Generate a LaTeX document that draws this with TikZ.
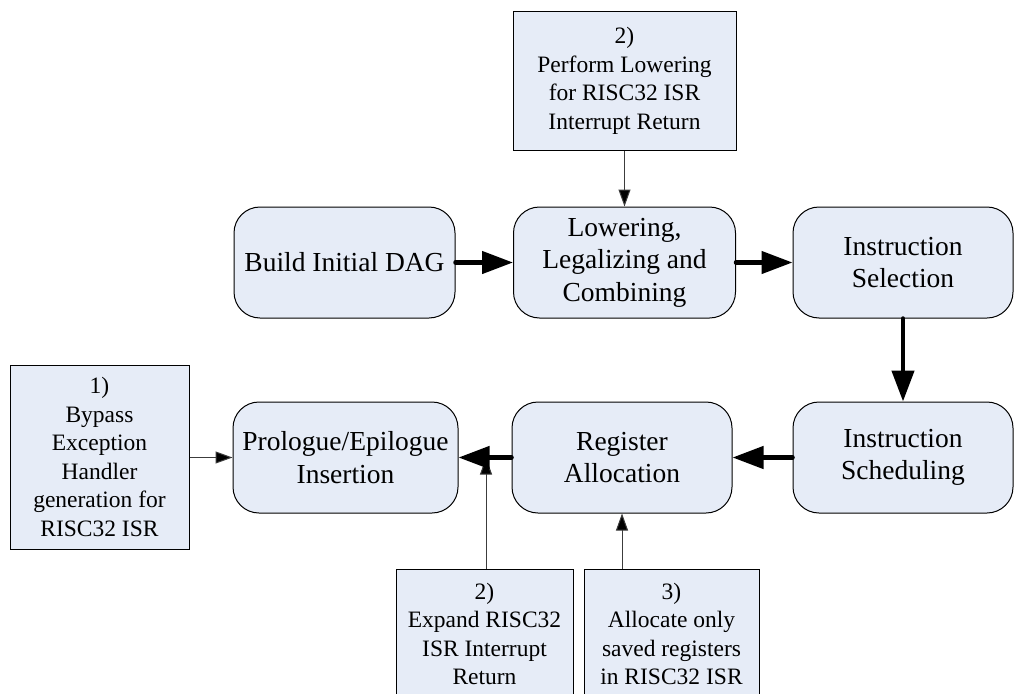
\documentclass[tikz,border=0pt]{standalone}
\usepackage{fontspec}
\setmainfont{Liberation Serif}
\usetikzlibrary{arrows.meta}
\definecolor{boxfill}{RGB}{230,236,247}
\definecolor{thinline}{RGB}{60,60,60}
\begin{document}
\begin{tikzpicture}[x=1pt,y=-1pt,
  stage/.style={draw=black, line width=1pt, fill=boxfill, rounded corners=26pt,
    align=center, inner sep=0pt, minimum height=111pt,
    font=\fontsize{27.5}{32.5}\selectfont},
  note/.style={draw=black, line width=1pt, fill=boxfill, align=center, inner sep=0pt,
    font=\fontsize{23.5}{28.5}\selectfont},
  flow/.style={line width=4.5pt, line cap=round, -{Triangle[length=31pt,width=22pt]}},
  hint/.style={draw=thinline, line width=1pt, -{Triangle[length=17pt,width=12pt,fill=black]}}]
\useasboundingbox (0,0) rectangle (1014,693);
\clip (0,0) rectangle (1014,693);

% main pipeline stages
\node[stage, minimum width=221pt] (build) at (344.5,262.5) {Build Initial DAG};
\node[stage, minimum width=222pt] (lower) at (624.5,262.5) {Lowering,\\Legalizing and\\Combining};
\node[stage, minimum width=220pt] (isel)  at (903,262.5) {Instruction\\Selection};
\node[stage, minimum width=220pt] (isched) at (903,457.5) {Instruction\\Scheduling};
\node[stage, minimum width=220pt] (reg)   at (622,457.5) {Register\\Allocation};
\node[stage, minimum width=225pt] (pro)   at (345.5,457.5) {Prologue/Epilogue\\Insertion};

% annotation boxes
\node[note, minimum width=223pt, minimum height=138pt] (ntop) at (624.5,81)
  {2)\\Perform Lowering\\for RISC32 ISR\\Interrupt Return};
\node[note, minimum width=179pt, minimum height=184pt] (n1) at (99.5,457)
  {1)\\Bypass\\Exception\\Handler\\generation for\\RISC32 ISR};
\node[note, minimum width=177pt, minimum height=130pt] (n2) at (484.5,634)
  {2)\\Expand RISC32\\ISR Interrupt\\Return};
\node[note, minimum width=175pt, minimum height=130pt] (n3) at (671.5,634)
  {3)\\Allocate only\\saved registers\\in RISC32 ISR};

\coordinate (join) at (486,457.5);

% thin hint arrows
\draw[hint] (ntop.south) -- (lower.north);
\draw[hint] (n1.east |- pro.west) -- (pro.west);
\draw[hint] (join |- n2.north) -- (join);
\draw[hint] (n3.north -| reg.south) -- (reg.south);

% thick flow arrows
\draw[flow] (build.east) -- (lower.west);
\draw[flow] (lower.east) -- (isel.west);
\draw[flow] (isel.south) -- (isched.north);
\draw[flow] (isched.west) -- (reg.east);
\draw[flow] (reg.west) -- (pro.east);
\end{tikzpicture}
\end{document}
